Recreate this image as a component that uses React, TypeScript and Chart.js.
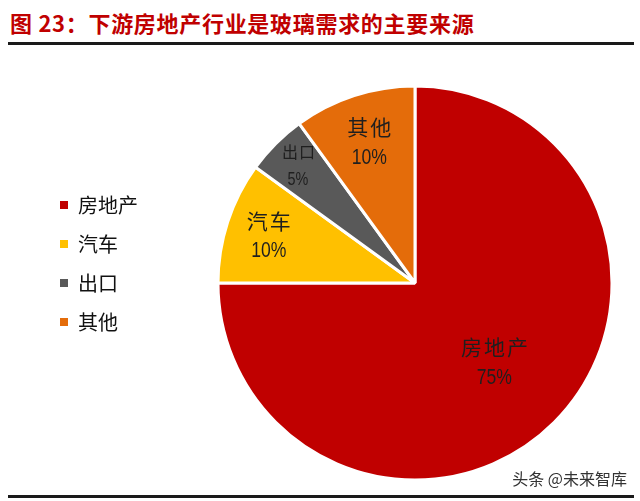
import React, { useEffect, useRef } from "react";
import { Chart, registerables } from "chart.js";

Chart.register(...registerables);

const categories = ["房地产", "汽车", "出口", "其他"];
const shares = [75, 10, 5, 10];
const sliceColors = ["#C00000", "#FFC000", "#595959", "#E46C0A"];
const titleText = "图 23：下游房地产行业是玻璃需求的主要来源";
const sourceText = "头条 @未来智库";

// label styling (radius fraction, font sizes, line gap)
const labelRadius = [0.57, 0.78, 0.84, 0.75];
const nameSize = [21, 21, 16, 21];
const pctSize = [22, 22, 18, 22];
const labelGap = [31, 30, 28, 31];

const labelPlugin = {
  id: "sliceLabels",
  afterDatasetsDraw(chart: any) {
    const ctx = chart.ctx;
    const meta = chart.getDatasetMeta(0);
    meta.data.forEach((arc: any, i: number) => {
      const p = arc.getProps(["x", "y", "startAngle", "endAngle", "outerRadius"], true);
      const mid = (p.startAngle + p.endAngle) / 2;
      const r = p.outerRadius * labelRadius[i];
      const cx = p.x + Math.cos(mid) * r;
      const cy = p.y + Math.sin(mid) * r;
      const gap = labelGap[i];
      ctx.save();
      ctx.fillStyle = "#1f1f1f";
      ctx.textAlign = "center";
      ctx.textBaseline = "middle";
      ctx.font = `${nameSize[i]}px "Noto Sans CJK SC"`;
      (ctx as any).letterSpacing = i === 2 ? "1px" : "2px";
      ctx.fillText(categories[i], cx + 1, cy - gap / 2);
      (ctx as any).letterSpacing = "0px";
      ctx.font = `${pctSize[i]}px "Liberation Sans"`;
      ctx.translate(cx, cy + gap / 2);
      ctx.scale(0.8, 1);
      ctx.fillText(`${shares[i]}%`, 0, 0);
      ctx.restore();
    });
  },
};

export default function App() {
  const ref = useRef<HTMLCanvasElement | null>(null);
  useEffect(() => {
    if (!ref.current) return;
    const baseGen = (Chart as any).overrides.doughnut.plugins.legend.labels.generateLabels;
    const chart = new Chart(ref.current, {
      type: "pie",
      data: {
        labels: categories,
        datasets: [
          {
            data: shares,
            backgroundColor: sliceColors,
            borderColor: "#ffffff",
            borderWidth: 3,
            clip: false as any,
          },
        ],
      },
      options: {
        animation: false,
        responsive: true,
        maintainAspectRatio: false,
        radius: 197,
        layout: { padding: { top: 176, bottom: 111, left: 41, right: 11 } },
        plugins: {
          tooltip: { enabled: false },
          legend: {
            position: "left",
            align: "start",
            maxWidth: 100,
            labels: {
              boxWidth: 8,
              boxHeight: 8,
              padding: 19,
              color: "#111111",
              font: { size: 20, family: '"Noto Sans CJK SC"' },
              generateLabels: (c: any) =>
                baseGen(c).map((l: any) => ({ ...l, lineWidth: 0, strokeStyle: "rgba(0,0,0,0)" })),
            },
          },
        },
      } as any,
      plugins: [labelPlugin],
    });
    return () => chart.destroy();
  }, []);

  return (
    <div
      style={{
        position: "fixed",
        left: 0,
        top: 0,
        width: 640,
        height: 501,
        overflow: "hidden",
        background: "#ffffff",
      }}
    >
      <div
        style={{
          position: "absolute",
          left: 10,
          top: 11,
          fontFamily: '"Noto Sans CJK SC"',
          fontWeight: 700,
          fontSize: 22,
          lineHeight: "22px",
          letterSpacing: "0.7px",
          color: "#C00000",
          whiteSpace: "nowrap",
        }}
      >
        {titleText}
      </div>
      <div style={{ position: "absolute", left: 8, top: 42, width: 626, height: 3, background: "#1a1a1a" }} />
      <div style={{ position: "absolute", left: 0, top: 0, width: 700, height: 501 }}>
        <canvas ref={ref} />
      </div>
      <div
        style={{
          position: "absolute",
          right: 13,
          top: 467,
          fontFamily: '"Noto Sans CJK SC"',
          fontSize: 16,
          lineHeight: "22px",
          color: "#333333",
          whiteSpace: "nowrap",
        }}
      >
        {sourceText}
      </div>
      <div style={{ position: "absolute", left: 8, top: 495, width: 626, height: 3, background: "#1a1a1a" }} />
    </div>
  );
}
